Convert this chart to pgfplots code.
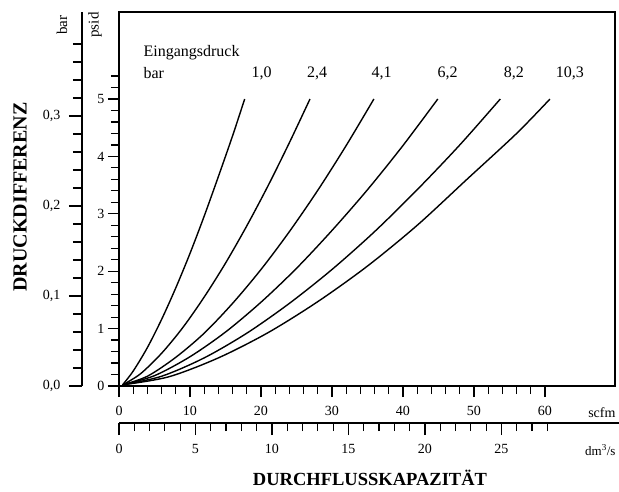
\documentclass[border=0pt]{standalone}
\usepackage{pgfplots}
\pgfplotsset{compat=1.18}
\usepackage{fontspec}
\setmainfont{Liberation Serif}

\pgfplotstableread{
x y
0.5 0.02
2 0.26
4 0.67
6 1.16
8 1.71
10 2.31
12 2.96
14 3.65
16 4.36
17.7 5.0
}\curveA
\pgfplotstableread{
x y
0.5 0.02
3 0.21
6 0.57
9 1.02
12 1.55
15 2.14
18 2.79
21 3.49
24 4.24
26.9 5.0
}\curveB
\pgfplotstableread{
x y
0.5 0.02
4 0.17
8 0.50
12 0.92
16 1.44
20 2.03
24 2.69
28 3.41
32 4.19
35.9 5.0
}\curveC
\pgfplotstableread{
x y
0.5 0.02
5 0.18
10 0.51
15 0.94
20 1.46
25 2.05
30 2.71
35 3.42
40 4.19
44.9 5.0
}\curveD
\pgfplotstableread{
x y
0.5 0.02
6 0.17
12 0.49
18 0.92
24 1.44
30 2.03
36 2.69
42 3.42
48 4.20
53.7 5.0
}\curveE
\pgfplotstableread{
x y
0.5 0.02
7 0.16
14 0.49
21 0.93
28 1.47
35 2.09
42 2.80
49 3.60
56 4.40
60.7 5.0
}\curveF

\begin{document}
\begin{tikzpicture}[x=1pt,y=1pt]
\useasboundingbox (0,0) rectangle (619,491);
% main axis (scfm / psid)
\begin{axis}[
  at={(119pt,105pt)}, anchor=south west,
  scale only axis, width=496pt, height=374pt,
  xmin=0, xmax=69.86, ymin=0, ymax=6.516,
  axis line style={line width=1.6pt},
  xtick={0,10,...,60},
  minor xtick={2,4,6,8,12,14,16,18,22,24,26,28,32,34,36,38,42,44,46,48,52,54,56,58},
  ytick={0,1,2,3,4,5},
  minor ytick={0.2,0.4,0.6,0.8,1.2,1.4,1.6,1.8,2.2,2.4,2.6,2.8,3.2,3.4,3.6,3.8,4.2,4.4,4.6,4.8,5.2,5.4},
  xtick pos=bottom, ytick pos=left,
  tick align=outside,
  major tick length=11pt, minor tick length=8pt,
  every tick/.style={black, line width=1.2pt},
  /pgf/number format/assume math mode=true,
  tick label style={font=\fontsize{14}{16}\selectfont},
  xticklabel shift=6pt,
  clip=false,
]
\addplot[black, line width=1.4pt, smooth, tension=0.5] table {\curveA};
\addplot[black, line width=1.4pt, smooth, tension=0.5] table {\curveB};
\addplot[black, line width=1.4pt, smooth, tension=0.5] table {\curveC};
\addplot[black, line width=1.4pt, smooth, tension=0.5] table {\curveD};
\addplot[black, line width=1.4pt, smooth, tension=0.5] table {\curveE};
\addplot[black, line width=1.4pt, smooth, tension=0.5] table {\curveF};
\node[anchor=west, font=\fontsize{16}{18}\selectfont] at (axis cs:2.96,5.80) {Eingangsdruck};
\node[anchor=west, font=\fontsize{16}{18}\selectfont] at (axis cs:2.96,5.45) {bar};
\node[font=\fontsize{16}{18}\selectfont] at (axis cs:20.1,5.45) {1,0};
\node[font=\fontsize{16}{18}\selectfont] at (axis cs:27.9,5.45) {2,4};
\node[font=\fontsize{16}{18}\selectfont] at (axis cs:37.0,5.45) {4,1};
\node[font=\fontsize{16}{18}\selectfont] at (axis cs:46.3,5.45) {6,2};
\node[font=\fontsize{16}{18}\selectfont] at (axis cs:55.6,5.45) {8,2};
\node[font=\fontsize{16}{18}\selectfont] at (axis cs:63.5,5.45) {10,3};
\end{axis}
% bar axis
\begin{axis}[
  at={(82pt,105pt)}, anchor=south west,
  scale only axis, width=10pt, height=374pt,
  xmin=0, xmax=1, ymin=0, ymax=0.4156,
  axis x line=none, axis y line=left,
  axis line style={-, line width=1.6pt},
  ytick={0,0.1,0.2,0.3},
  minor ytick={0.02,0.04,0.06,0.08,0.12,0.14,0.16,0.18,0.22,0.24,0.26,0.28,0.32,0.34,0.36,0.38},
  tick align=outside,
  major tick length=13pt, minor tick length=9pt,
  every tick/.style={black, line width=1.2pt},
  /pgf/number format/assume math mode=true,
  yticklabel shift=5pt,
  yticklabel style={font=\fontsize{14}{16}\selectfont, /pgf/number format/.cd, fixed, fixed zerofill, precision=1, use comma},
]
\end{axis}
% dm3/s axis
\begin{axis}[
  at={(119pt,68pt)}, anchor=south west,
  scale only axis, width=500pt, height=5pt,
  xmin=0, xmax=32.68, ymin=0, ymax=1,
  axis y line=none, axis x line=bottom,
  axis line style={-, line width=1.6pt},
  xtick={0,5,...,25},
  minor xtick={1,2,3,4,6,7,8,9,11,12,13,14,16,17,18,19,21,22,23,24,26,27,28},
  tick align=outside,
  major tick length=12pt, minor tick length=8pt,
  every tick/.style={black, line width=1.2pt},
  /pgf/number format/assume math mode=true,
  xticklabel style={font=\fontsize{14}{16}\selectfont},
  xticklabel shift=6pt,
]
\end{axis}
\node[font=\fontsize{15}{17}\selectfont, rotate=90] at (62,466) {bar};
\node[font=\fontsize{15}{17}\selectfont, rotate=90] at (95,466) {psid};
\node[font=\bfseries\fontsize{20}{22}\selectfont, rotate=90] at (20,294) {DRUCKDIFFERENZ};
\node[font=\bfseries\fontsize{18.5}{20}\selectfont] at (370,13) {DURCHFLUSSKAPAZITÄT};
\node[anchor=east, font=\fontsize{14}{16}\selectfont] at (619,78) {scfm};
\node[anchor=east, font=\fontsize{13}{15}\selectfont] at (619,41) {dm\textsuperscript{3}/s};
\end{tikzpicture}
\end{document}
